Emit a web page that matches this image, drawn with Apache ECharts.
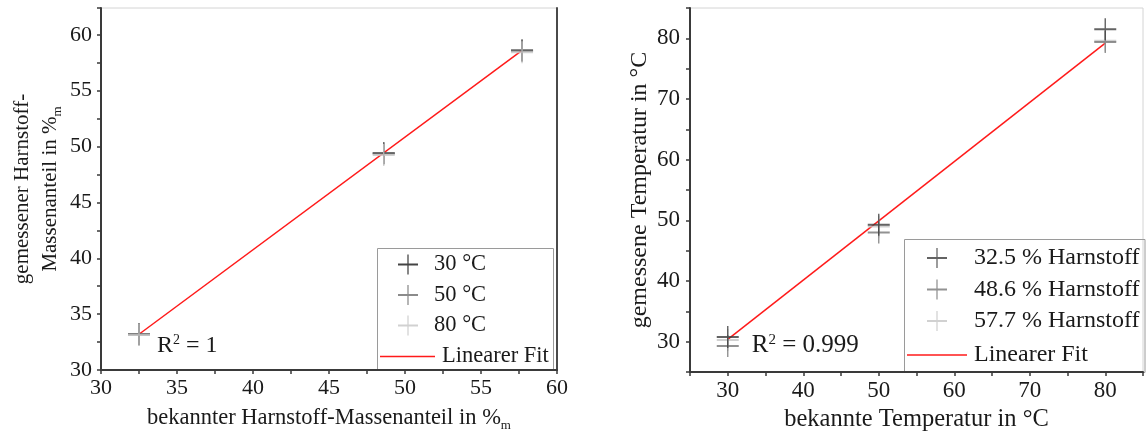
<!DOCTYPE html>
<html>
<head>
<meta charset="utf-8">
<script src="https://cdn.jsdelivr.net/npm/echarts@6/dist/echarts.min.js"></script>
<style>html,body{margin:0;padding:0;background:#fff}#c{width:1146px;height:437px}</style>
</head>
<body>
<div id="c"></div>
<script>
// ---- Left chart data ----
const leftX = [32.5, 48.6, 57.7];
const left30 = [33.2, 49.4, 58.6];
const left50 = [33.2, 49.4, 58.6];
const left80 = [33.15, 49.25, 58.45];
const leftFitX = [32.5, 57.7];
const leftFitY = [33.2, 58.6];
const leftNames = ['30 °C', '50 °C', '80 °C'];

// ---- Right chart data ----
const rightX = [30, 50, 80];
const right325 = [30.8, 49.3, 81.5];
const right486 = [29.3, 48.0, 79.4];
const right577 = [30.3, 49.0, 79.6];
const rightFitX = [30, 80];
const rightFitY = [30.4, 79.2];
const rightNames = ['32.5 % Harnstoff', '48.6 % Harnstoff', '57.7 % Harnstoff'];
const fitName = 'Linearer Fit';

const FONT = 'Liberation Serif';
const TXT = '#1a1a1a';
const CROSS = 'path://M0,10h22v2h-22z M10.3,0h1.4v22h-1.4z';
const LINEICON = 'path://M0,0h60v1.6h-60z';
const grayL = ['#151515', '#6e6e6e', '#c6c6c6'];
const grayR = ['#3c3c3c', '#777777', '#c6c6c6'];

function pairs(xs, ys) { return xs.map((x, i) => [x, ys[i]]); }

const labelEvery5 = v => (Math.abs(v % 5) < 1e-6 ? String(v) : '');
const labelEvery10 = v => (Math.abs(v % 10) < 1e-6 ? String(v) : '');

function axisBase() {
  return {
    type: 'value',
    axisLine: { show: true, onZero: false, lineStyle: { color: '#3a3a3a', width: 2 } },
    axisTick: { show: true, inside: false, length: 4, lineStyle: { color: '#3a3a3a', width: 1.5 } },
    splitLine: { show: false },
    nameLocation: 'middle'
  };
}

const sub = { s: { fontFamily: FONT, fontSize: 13, color: TXT, verticalAlign: 'bottom', lineHeight: 28 } };

const option = {
  animation: false,
  backgroundColor: '#fff',
  grid: [
    { left: 101, top: 8, width: 456, height: 366, show: true, borderColor: '#d4d4d4', borderWidth: 1 },
    { left: 690, top: 8, width: 455, height: 367, show: true, borderColor: '#d4d4d4', borderWidth: 1 }
  ],
  xAxis: [
    Object.assign(axisBase(), {
      gridIndex: 0, min: 30, max: 60, interval: 2.5,
      axisLabel: { fontFamily: FONT, fontSize: 22, color: TXT, margin: 7, formatter: labelEvery5 },
      name: 'bekannter Harnstoff-Massenanteil in %{s|m}', nameGap: 34,
      nameTextStyle: { fontFamily: FONT, fontSize: 22.5, color: TXT, lineHeight: 28, rich: sub }
    }),
    Object.assign(axisBase(), {
      gridIndex: 1, min: 25, max: 85, interval: 5,
      axisLabel: { fontFamily: FONT, fontSize: 23, color: TXT, margin: 7, formatter: labelEvery10 },
      name: 'bekannte Temperatur in °C', nameGap: 33,
      nameTextStyle: { fontFamily: FONT, fontSize: 24.5, color: TXT }
    })
  ],
  yAxis: [
    Object.assign(axisBase(), {
      gridIndex: 0, min: 30, max: 62.4, interval: 2.5,
      axisLabel: { fontFamily: FONT, fontSize: 22, color: TXT, margin: 9, formatter: labelEvery5 },
      name: 'gemessener Harnstoff-\nMassenanteil in %{s|m}', nameGap: 37, nameRotate: 90,
      nameTextStyle: { fontFamily: FONT, fontSize: 21, color: TXT, lineHeight: 28, rich: sub }
    }),
    Object.assign(axisBase(), {
      gridIndex: 1, min: 25, max: 85, interval: 5,
      axisLabel: { fontFamily: FONT, fontSize: 23, color: TXT, margin: 10, formatter: labelEvery10 },
      name: 'gemessene Temperatur in °C', nameGap: 38, nameRotate: 90,
      nameTextStyle: { fontFamily: FONT, fontSize: 24, color: TXT }
    }),
    {
      type: 'value', gridIndex: 0, position: 'right', min: 30, max: 62.4,
      axisLine: { show: true, lineStyle: { color: '#4a4a4a', width: 2 } },
      axisTick: { show: false }, axisLabel: { show: false }, splitLine: { show: false }
    }
  ],
  legend: [
    {
      data: leftNames, orient: 'vertical', left: 393, top: 248, itemWidth: 20, itemHeight: 20, itemGap: 7.5,
      textStyle: { fontFamily: FONT, fontSize: 22.5, color: TXT, padding: [0, 0, 0, 11] }, selectedMode: false
    },
    {
      data: [{ name: fitName, icon: LINEICON }], orient: 'vertical', left: 375, top: 340, itemWidth: 55, itemHeight: 20,
      textStyle: { fontFamily: FONT, fontSize: 22.5, color: TXT, padding: [0, 0, 0, 2] }, selectedMode: false
    },
    {
      data: rightNames, orient: 'vertical', left: 922, top: 241, itemWidth: 20, itemHeight: 20, itemGap: 7.5,
      textStyle: { fontFamily: FONT, fontSize: 24, color: TXT, padding: [0, 0, 0, 22] }, selectedMode: false
    },
    {
      data: [{ name: fitName, icon: LINEICON }], orient: 'vertical', left: 902, top: 338, itemWidth: 60, itemHeight: 20,
      textStyle: { fontFamily: FONT, fontSize: 24, color: TXT, padding: [0, 0, 0, 2] }, selectedMode: false
    }
  ],
  graphic: [
    { type: 'rect', shape: { x: 377.5, y: 248.5, width: 176, height: 122 }, style: { fill: 'none', stroke: '#9a9a9a', lineWidth: 1 }, silent: true },
    { type: 'rect', shape: { x: 904.5, y: 239.5, width: 240.5, height: 133 }, style: { fill: 'none', stroke: '#9a9a9a', lineWidth: 1 }, silent: true }
  ],
  series: [
    {
      name: fitName, type: 'line', xAxisIndex: 0, yAxisIndex: 0, data: pairs(leftFitX, leftFitY),
      symbol: 'none', lineStyle: { color: '#ff1a1a', width: 1.5 }, itemStyle: { color: '#ff1a1a' }, z: 1,
      markPoint: {
        symbol: 'circle', symbolSize: 0, silent: true,
        data: [{ coord: [leftFitX[0], leftFitY[0]] }],
        label: {
          show: true, position: 'right', offset: [13, 11],
          formatter: '{b|R}{p|2}{b| = 1}',
          rich: { b: { fontFamily: FONT, fontSize: 24, color: TXT }, p: { fontFamily: FONT, fontSize: 14, color: TXT, verticalAlign: 'top' } }
        }
      }
    },
    {
      name: fitName, type: 'line', xAxisIndex: 1, yAxisIndex: 1, data: pairs(rightFitX, rightFitY),
      symbol: 'none', lineStyle: { color: '#ff1a1a', width: 1.5 }, itemStyle: { color: '#ff1a1a' }, z: 1,
      markPoint: {
        symbol: 'circle', symbolSize: 0, silent: true,
        data: [{ coord: [rightFitX[0], rightFitY[0]] }],
        label: {
          show: true, position: 'right', offset: [19, 6],
          formatter: '{b|R}{p|2}{b| = 0.999}',
          rich: { b: { fontFamily: FONT, fontSize: 25, color: TXT }, p: { fontFamily: FONT, fontSize: 15, color: TXT, verticalAlign: 'top' } }
        }
      }
    },
    { name: leftNames[0], type: 'scatter', xAxisIndex: 0, yAxisIndex: 0, data: pairs(leftX, left30), symbol: CROSS, symbolSize: 22, itemStyle: { color: grayL[0] }, z: 2 },
    { name: leftNames[1], type: 'scatter', xAxisIndex: 0, yAxisIndex: 0, data: pairs(leftX, left50), symbol: CROSS, symbolSize: 22, itemStyle: { color: grayL[1] }, z: 3 },
    { name: leftNames[2], type: 'scatter', xAxisIndex: 0, yAxisIndex: 0, data: pairs(leftX, left80), symbol: CROSS, symbolSize: 22, itemStyle: { color: grayL[2] }, z: 4 },
    { name: rightNames[2], type: 'scatter', xAxisIndex: 1, yAxisIndex: 1, data: pairs(rightX, right577), symbol: CROSS, symbolSize: 22, itemStyle: { color: grayR[2] }, z: 2 },
    { name: rightNames[1], type: 'scatter', xAxisIndex: 1, yAxisIndex: 1, data: pairs(rightX, right486), symbol: CROSS, symbolSize: 22, itemStyle: { color: grayR[1] }, z: 3 },
    { name: rightNames[0], type: 'scatter', xAxisIndex: 1, yAxisIndex: 1, data: pairs(rightX, right325), symbol: CROSS, symbolSize: 22, itemStyle: { color: grayR[0] }, z: 4 }
  ]
};

const chart = echarts.init(document.getElementById('c'), null, { renderer: 'canvas' });
chart.setOption(option);
</script>
</body>
</html>
